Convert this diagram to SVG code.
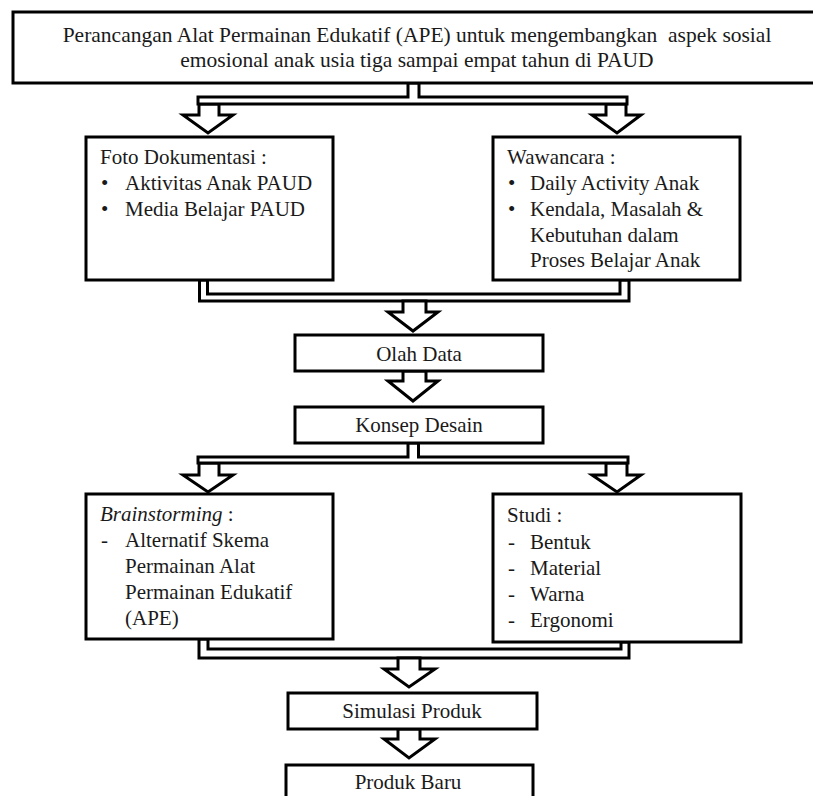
<svg xmlns="http://www.w3.org/2000/svg" width="813" height="796" viewBox="0 0 813 796">
<style>
.box{fill:#fff;stroke:#000;stroke-width:3}
.con{fill:#fff;stroke:#000;stroke-width:3;stroke-linejoin:miter}
text{font-family:'Liberation Serif','Times New Roman','DejaVu Serif',serif;font-size:21px;fill:#1a1a1a}
.c{text-anchor:middle}
.pre{white-space:pre}
.t{font-size:21.5px}
</style>
<rect width="813" height="796" fill="#fff"/>
<g id="connectors">
  <polygon class="con" points="199,104 219,104 219,115 233,115 208,133 183,115 199,115"/>
  <polygon class="con" points="606,104 626,104 626,115 641,115 617,133 592,115 606,115"/>
  <polygon class="con" points="408,83 408,97 198,97 198,104 627,104 627,97 419,97 419,83"/>
  <polygon class="con" points="199.5,280 199.5,301 629,301 629,280 620,280 620,294 207.5,294 207.5,280"/>
  <polygon class="con" points="403,301 426,301 426,312 438,312 413,331 388,312 403,312"/>
  <polygon class="con" points="403,371 426,371 426,381 438,381 413,401 388,381 403,381"/>
  <polygon class="con" points="199,463 219,463 219,475 233,475 208,492 183,475 199,475"/>
  <polygon class="con" points="606,463 627,463 627,475 641,475 617,492 592,475 606,475"/>
  <polygon class="con" points="408,443 408,457 198,457 198,463 628,463 628,457 418.5,457 418.5,443"/>
  <polygon class="con" points="199,639 199,658 629,658 629,642 621,642 621,649 208,649 208,639"/>
  <polygon class="con" points="398,658 420,658 420,669 435,669 409,687 384,669 398,669"/>
  <polygon class="con" points="398,729 420,729 420,739 435,739 409,758 384,739 398,739"/>
</g>
<g id="node-title">
  <rect class="box" x="13" y="12" width="820" height="71"/>
  <text class="c pre t" x="417" y="42">Perancangan Alat Permainan Edukatif (APE) untuk mengembangkan  aspek sosial</text>
  <text class="c t" x="417" y="67">emosional anak usia tiga sampai empat tahun di PAUD</text>
</g>
<g id="node-foto">
  <rect class="box" x="86" y="137" width="247" height="143"/>
  <text x="100" y="164">Foto Dokumentasi :</text>
  <text x="101" y="190">•</text><text x="125" y="190">Aktivitas Anak PAUD</text>
  <text x="101" y="216">•</text><text x="125" y="216">Media Belajar PAUD</text>
</g>
<g id="node-wawancara">
  <rect class="box" x="493" y="137" width="247" height="143"/>
  <text x="507" y="164">Wawancara :</text>
  <text x="508" y="190">•</text><text x="530" y="190">Daily Activity Anak</text>
  <text x="508" y="216">•</text><text x="530" y="216">Kendala, Masalah &amp;</text>
  <text x="530" y="242">Kebutuhan dalam</text>
  <text x="530" y="267">Proses Belajar Anak</text>
</g>
<g id="node-olah">
  <rect class="box" x="295" y="335" width="248" height="36"/>
  <text class="c" x="419" y="361">Olah Data</text>
</g>
<g id="node-konsep">
  <rect class="box" x="295" y="407" width="248" height="36"/>
  <text class="c" x="419" y="432">Konsep Desain</text>
</g>
<g id="node-brainstorming">
  <rect class="box" x="86" y="494" width="247" height="145"/>
  <text x="100" y="521"><tspan font-style="italic">Brainstorming</tspan> :</text>
  <text x="101" y="547">-</text><text x="125" y="547">Alternatif Skema</text>
  <text x="125" y="573">Permainan Alat</text>
  <text x="125" y="599">Permainan Edukatif</text>
  <text x="125" y="625">(APE)</text>
</g>
<g id="node-studi">
  <rect class="box" x="493" y="494" width="248" height="148"/>
  <text x="507" y="522">Studi :</text>
  <text x="508" y="549">-</text><text x="530" y="549">Bentuk</text>
  <text x="508" y="575">-</text><text x="530" y="575">Material</text>
  <text x="508" y="601">-</text><text x="530" y="601">Warna</text>
  <text x="508" y="627">-</text><text x="530" y="627">Ergonomi</text>
</g>
<g id="node-simulasi">
  <rect class="box" x="288" y="693" width="249" height="36"/>
  <text class="c" x="412" y="718">Simulasi Produk</text>
</g>
<g id="node-produk">
  <rect class="box" x="286" y="765" width="247" height="40"/>
  <text class="c" x="408" y="789">Produk Baru</text>
</g>
</svg>
